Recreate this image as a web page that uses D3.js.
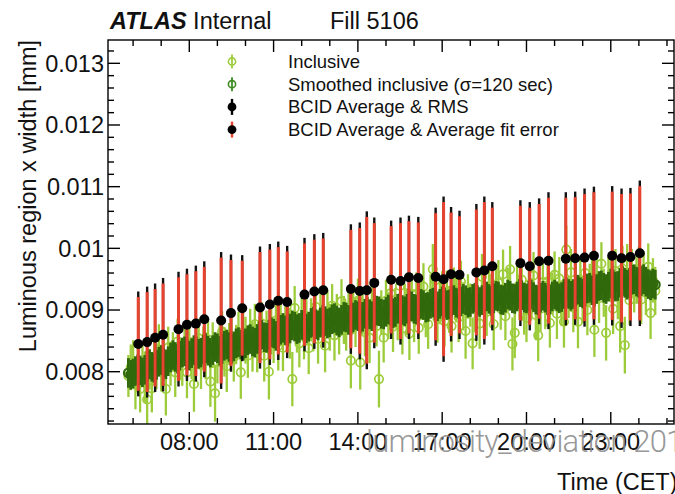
<!DOCTYPE html>
<html><head><meta charset="utf-8">
<script src="https://cdn.jsdelivr.net/npm/d3@7"></script>
<style>
html,body{margin:0;padding:0;background:#fff;}
svg{display:block;font-family:"Liberation Sans",Arial,Helvetica,sans-serif;}
</style></head><body>
<svg id="chart" width="675" height="494"></svg>
<script>
// Luminous region x width vs time, fill 5106.
// Widths are stored in micrometres; the axis is labelled in mm.

// Inclusive / smoothed samples: one every 5 minutes starting at 05:50
const sampleStart = "05:50";
const sampleStepMin = 5;

const inclusiveWidth = [
  7.93, 8.07,
  8.15, 7.79, 8.09, 7.72, 8.09, 7.91, 7.55, 8.04, 7.73, 8.21, 8.09, 8.36,
  8.01, 8.23, 7.72, 8.39, 8.13, 8.32, 7.99, 8.49, 8.21, 8.16, 8.45, 7.99,
  8.46, 8.22, 7.80, 8.43, 8.54, 8.11, 8.38, 8.26, 8.52, 7.84, 8.43, 7.65,
  8.16, 8.49, 8.65, 8.32, 8.09, 8.45, 8.57, 8.23, 8.44, 8.60, 7.99, 8.64,
  8.51, 8.26, 8.68, 8.41, 8.77, 8.38, 8.53, 8.78, 8.26, 8.65, 8.00, 8.66,
  8.50, 8.83, 8.42, 8.76, 8.39, 8.82, 8.87, 8.62, 7.88, 9.03, 8.64, 8.46,
  8.86, 8.59, 8.90, 8.38, 8.84, 8.71, 9.05, 8.53, 8.92, 8.82, 8.42, 8.96,
  8.72, 9.07, 8.59, 8.93, 8.65, 9.14, 8.84, 8.68, 8.99, 8.18, 8.96, 8.80,
  9.15, 8.15, 8.94, 8.64, 9.09, 8.55, 9.10, 8.86, 8.74, 7.88, 8.96, 8.55,
  9.15, 8.91, 9.27, 8.73, 9.03, 8.88, 9.39, 8.70, 9.08, 8.97, 8.62, 9.26,
  8.87, 9.26, 8.71, 9.18, 9.38, 8.92, 8.77, 9.25, 9.66, 9.48, 8.86, 9.12,
  9.26, 8.82, 9.30, 9.01, 8.74, 9.34, 9.17, 8.88, 9.46, 9.06, 8.66, 9.22,
  9.08, 8.46, 9.02, 9.28, 8.78, 9.54, 9.11, 8.97, 9.38, 9.20, 8.77, 9.38,
  9.44, 9.02, 9.58, 8.90, 9.33, 9.66, 8.45, 8.63, 9.37, 9.21, 9.49, 9.00,
  8.87, 9.41, 9.17, 9.56, 8.92, 8.59, 9.02, 9.45, 9.08, 9.46, 8.79, 9.27,
  9.57, 8.94, 9.51, 9.11, 8.81, 9.98, 9.21, 9.61, 9.04, 9.39, 8.81, 9.47,
  9.15, 9.60, 9.00, 9.41, 9.54, 8.68, 9.49, 9.19, 9.75, 9.28, 8.63, 9.50,
  9.51, 9.02, 9.63, 9.24, 8.74, 9.67, 8.43, 9.73, 9.16, 9.61, 9.32, 9.51,
  9.66, 9.17, 9.60, 9.31, 9.70, 8.95, 9.48, 9.31
];

const inclusiveErr = [
  0.34, 0.37,
  0.36, 0.40, 0.32, 0.38, 0.34, 0.42, 0.45, 0.33, 0.39, 0.35, 0.37, 0.41,
  0.33, 0.38, 0.43, 0.34, 0.36, 0.32, 0.40, 0.37, 0.35, 0.39, 0.33, 0.42,
  0.37, 0.34, 0.45, 0.36, 0.32, 0.39, 0.35, 0.38, 0.34, 0.41, 0.37, 0.46,
  0.35, 0.38, 0.33, 0.40, 0.42, 0.34, 0.36, 0.39, 0.32, 0.37, 0.43, 0.35,
  0.38, 0.36, 0.34, 0.41, 0.33, 0.39, 0.37, 0.35, 0.42, 0.34, 0.45, 0.38,
  0.36, 0.33, 0.40, 0.35, 0.38, 0.34, 0.37, 0.41, 0.44, 0.36, 0.33, 0.39,
  0.34, 0.39, 0.36, 0.42, 0.35, 0.38, 0.33, 0.40, 0.37, 0.34, 0.43, 0.36,
  0.38, 0.35, 0.41, 0.33, 0.37, 0.36, 0.39, 0.34, 0.38, 0.45, 0.35, 0.40,
  0.36, 0.44, 0.34, 0.39, 0.37, 0.41, 0.35, 0.38, 0.33, 0.46, 0.36, 0.40,
  0.34, 0.38, 0.36, 0.41, 0.33, 0.37, 0.39, 0.42, 0.35, 0.38, 0.43, 0.34,
  0.39, 0.35, 0.42, 0.34, 0.38, 0.36, 0.40, 0.33, 0.41, 0.37, 0.39, 0.35,
  0.37, 0.41, 0.34, 0.38, 0.43, 0.35, 0.37, 0.40, 0.34, 0.39, 0.45, 0.36,
  0.35, 0.42, 0.38, 0.34, 0.41, 0.37, 0.36, 0.39, 0.33, 0.38, 0.42, 0.35,
  0.37, 0.34, 0.40, 0.39, 0.36, 0.38, 0.43, 0.41, 0.35, 0.37, 0.34, 0.40,
  0.39, 0.36, 0.34, 0.38, 0.41, 0.42, 0.37, 0.35, 0.39, 0.36, 0.40, 0.34,
  0.38, 0.41, 0.35, 0.37, 0.42, 0.39, 0.34, 0.38, 0.40, 0.36, 0.43, 0.37,
  0.36, 0.39, 0.41, 0.34, 0.38, 0.44, 0.37, 0.40, 0.35, 0.39, 0.45, 0.36,
  0.38, 0.41, 0.36, 0.39, 0.43, 0.37, 0.46, 0.34, 0.40, 0.38, 0.36, 0.41,
  0.37, 0.40, 0.35, 0.39, 0.38, 0.42, 0.36, 0.39
];

const smoothedWidth = [
  7.98, 7.95,
  7.97, 8.01, 8.04, 8.02, 7.99, 8.03, 8.09, 8.12, 8.08, 8.06, 8.11, 8.16,
  8.19, 8.15, 8.12, 8.17, 8.23, 8.27, 8.24, 8.21, 8.26, 8.31, 8.33, 8.29,
  8.26, 8.30, 8.35, 8.33, 8.29, 8.31, 8.36, 8.38, 8.34, 8.31, 8.35, 8.40,
  8.38, 8.34, 8.37, 8.42, 8.44, 8.40, 8.37, 8.41, 8.46, 8.48, 8.44, 8.42,
  8.46, 8.51, 8.53, 8.49, 8.47, 8.53, 8.58, 8.60, 8.56, 8.55, 8.60, 8.64,
  8.62, 8.58, 8.62, 8.68, 8.71, 8.67, 8.65, 8.70, 8.75, 8.73, 8.69, 8.71,
  8.76, 8.74, 8.70, 8.73, 8.79, 8.81, 8.77, 8.75, 8.80, 8.84, 8.82, 8.78,
  8.80, 8.85, 8.87, 8.83, 8.80, 8.84, 8.89, 8.88, 8.84, 8.83, 8.88, 8.92,
  8.90, 8.86, 8.89, 8.94, 8.97, 8.93, 8.90, 8.94, 8.99, 8.98, 8.94, 8.93,
  8.97, 9.01, 8.99, 8.95, 8.97, 9.02, 9.04, 9.00, 8.98, 9.02, 9.07, 9.06,
  9.02, 9.01, 9.06, 9.10, 9.08, 9.04, 9.05, 9.10, 9.12, 9.08, 9.06, 9.10,
  9.14, 9.12, 9.08, 9.09, 9.14, 9.16, 9.12, 9.10, 9.14, 9.18, 9.16, 9.12,
  9.13, 9.18, 9.20, 9.16, 9.13, 9.16, 9.21, 9.22, 9.18, 9.15, 9.19, 9.23,
  9.22, 9.17, 9.16, 9.20, 9.25, 9.23, 9.19, 9.18, 9.22, 9.26, 9.24, 9.20,
  9.19, 9.23, 9.25, 9.21, 9.17, 9.16, 9.20, 9.23, 9.20, 9.16, 9.17, 9.22,
  9.25, 9.22, 9.19, 9.21, 9.26, 9.29, 9.26, 9.23, 9.26, 9.31, 9.33, 9.29,
  9.27, 9.30, 9.35, 9.36, 9.32, 9.30, 9.34, 9.39, 9.40, 9.36, 9.34, 9.38,
  9.43, 9.42, 9.38, 9.39, 9.44, 9.47, 9.44, 9.41, 9.44, 9.49, 9.50, 9.46,
  9.44, 9.47, 9.50, 9.46, 9.42, 9.40, 9.43, 9.41
];
const smoothedErr = 0.24;

// Per-BCID averages
const bcidTime = ["06:11","06:30","06:47","07:04","07:37","07:55","08:14","08:32","09:08","09:29",
  "09:53","10:31","10:52","11:10","11:29","12:06","12:27","12:46","13:45","14:04",
  "14:19","14:35","15:11","15:31","15:49","16:09","16:46","17:03","17:19","17:37",
  "18:13","18:30","18:47","19:47","20:07","20:27","20:47","21:24","21:44","22:04",
  "22:24","23:03","23:23","23:42","00:02"];
const bcidMean = [8.45,8.48,8.55,8.60,8.69,8.76,8.78,8.85,8.83,8.95,
  9.03,9.04,9.09,9.15,9.13,9.25,9.30,9.32,9.34,9.31,
  9.32,9.44,9.49,9.47,9.53,9.52,9.54,9.50,9.58,9.57,
  9.61,9.64,9.71,9.76,9.71,9.79,9.80,9.83,9.84,9.85,
  9.88,9.88,9.84,9.86,9.92];
const bcidRms = [0.85,0.90,0.88,0.92,0.93,0.91,0.94,0.94,1.11,0.95,
  0.86,0.99,0.98,0.96,0.91,0.92,0.93,0.93,1.05,1.11,
  1.28,1.06,0.96,1.03,1.00,0.99,1.12,1.34,1.09,1.04,
  1.11,1.20,1.04,1.02,1.04,1.02,1.11,1.08,1.08,1.12,
  1.12,1.13,1.13,1.12,1.18];
const bcidFitErr = [0.76,0.81,0.79,0.83,0.84,0.82,0.85,0.85,1.02,0.86,
  0.77,0.90,0.89,0.87,0.82,0.83,0.84,0.84,0.96,1.02,
  1.19,0.97,0.87,0.94,0.91,0.90,1.03,1.25,1.00,0.95,
  1.02,1.11,0.95,0.93,0.95,0.93,1.02,0.99,0.99,1.03,
  1.03,1.04,1.04,1.03,1.09];

// Axes
const xDomainHours = [5.107, 25.25];
const xMajorHours = [8, 11, 14, 17, 20, 23];
const xMajorLabels = ["08:00", "11:00", "14:00", "17:00", "20:00", "23:00"];
const xMinorHours = [6, 7, 9, 10, 12, 13, 15, 16, 18, 19, 21, 22, 24, 25];
const yDomainMm = [0.007152, 0.013378];
const yMajorMm = [0.008, 0.009, 0.010, 0.011, 0.012, 0.013];
const yMajorLabels = ["0.008", "0.009", "0.01", "0.011", "0.012", "0.013"];

const legendLabels = ["Inclusive", "Smoothed inclusive (\u03C3=120 sec)",
  "BCID Average & RMS", "BCID Average & Average fit error"];

// ---- layout ----
const frame = {left: 108, right: 674, top: 40, bottom: 424};
const colInclusive = "#9ccc3a";
const colSmoothed = "#30690b";
const colRed = "#e8432e";

const svg = d3.select("#chart");
svg.append("rect").attr("width", 675).attr("height", 494).attr("fill", "#fff");

const toHours = s => {
  const [h, m] = s.split(":").map(Number);
  return (h < 5 ? h + 24 : h) + m / 60;
};
const um = v => v / 1000;

const x = d3.scaleLinear().domain(xDomainHours).range([frame.left, frame.right]);
const y = d3.scaleLinear().domain(yDomainMm).range([frame.bottom, frame.top]);

const t0 = toHours(sampleStart);
const sampleHours = inclusiveWidth.map((_, i) => t0 + i * sampleStepMin / 60);

svg.append("clipPath").attr("id", "plotClip").append("rect")
  .attr("x", frame.left).attr("y", frame.top)
  .attr("width", frame.right - frame.left).attr("height", frame.bottom - frame.top);
const plot = svg.append("g").attr("clip-path", "url(#plotClip)");

// inclusive points
const inc = plot.append("g");
inc.selectAll("line").data(inclusiveWidth).join("line")
  .attr("x1", (d, i) => x(sampleHours[i])).attr("x2", (d, i) => x(sampleHours[i]))
  .attr("y1", (d, i) => y(um(d + inclusiveErr[i])))
  .attr("y2", (d, i) => y(um(d - inclusiveErr[i])))
  .attr("stroke", colInclusive).attr("stroke-width", 2.3);
inc.selectAll("circle").data(inclusiveWidth).join("circle")
  .attr("cx", (d, i) => x(sampleHours[i])).attr("cy", d => y(um(d)))
  .attr("r", 4.2).attr("fill", "none").attr("stroke", colInclusive).attr("stroke-width", 1.7);

// smoothed points
const sm = plot.append("g");
sm.selectAll("line").data(smoothedWidth).join("line")
  .attr("x1", (d, i) => x(sampleHours[i])).attr("x2", (d, i) => x(sampleHours[i]))
  .attr("y1", d => y(um(d + smoothedErr)))
  .attr("y2", d => y(um(d - smoothedErr)))
  .attr("stroke", colSmoothed).attr("stroke-width", 2.8);
sm.selectAll("circle").data(smoothedWidth).join("circle")
  .attr("cx", (d, i) => x(sampleHours[i])).attr("cy", d => y(um(d)))
  .attr("r", 4.4).attr("fill", "none").attr("stroke", colSmoothed).attr("stroke-width", 2.2);

// BCID averages: RMS (black) under fit error (red), then markers
const bc = plot.append("g");
const bx = i => x(toHours(bcidTime[i]));
bc.selectAll("line.rms").data(bcidMean).join("line").attr("class", "rms")
  .attr("x1", (d, i) => bx(i)).attr("x2", (d, i) => bx(i))
  .attr("y1", (d, i) => y(um(d + bcidRms[i]))).attr("y2", (d, i) => y(um(d - bcidRms[i])))
  .attr("stroke", "#111").attr("stroke-width", 2.4);
bc.selectAll("line.fit").data(bcidMean).join("line").attr("class", "fit")
  .attr("x1", (d, i) => bx(i)).attr("x2", (d, i) => bx(i))
  .attr("y1", (d, i) => y(um(d + bcidFitErr[i]))).attr("y2", (d, i) => y(um(d - bcidFitErr[i])))
  .attr("stroke", colRed).attr("stroke-width", 3);
bc.selectAll("circle").data(bcidMean).join("circle")
  .attr("cx", (d, i) => bx(i)).attr("cy", d => y(um(d)))
  .attr("r", 5).attr("fill", "#000");

// ---- frame and ticks ----
const axes = svg.append("g").attr("stroke", "#000").attr("stroke-width", 1.4);
axes.append("rect").attr("x", frame.left).attr("y", frame.top)
  .attr("width", frame.right - frame.left).attr("height", frame.bottom - frame.top)
  .attr("fill", "none");

function xTicks(hours, len) {
  hours.forEach(h => {
    const px = x(h);
    if (px <= frame.left || px >= frame.right) return;
    axes.append("line").attr("x1", px).attr("x2", px)
      .attr("y1", frame.bottom).attr("y2", frame.bottom - len);
    axes.append("line").attr("x1", px).attr("x2", px)
      .attr("y1", frame.top).attr("y2", frame.top + len);
  });
}
xTicks(xMajorHours, 12);
xTicks(xMinorHours, 6);

const yMinor = d3.range(36, 67).map(k => k * 0.0002).filter(v => !yMajorMm.some(m => Math.abs(m - v) < 1e-9));
function yTicks(vals, len) {
  vals.forEach(v => {
    const py = y(v);
    if (py <= frame.top || py >= frame.bottom) return;
    axes.append("line").attr("x1", frame.left).attr("x2", frame.left + len).attr("y1", py).attr("y2", py);
    axes.append("line").attr("x1", frame.right).attr("x2", frame.right - len).attr("y1", py).attr("y2", py);
  });
}
yTicks(yMajorMm, 12);
yTicks(yMinor, 6);

// tick labels
const lab = svg.append("g").attr("fill", "#111").attr("font-size", 23.5);
xMajorHours.forEach((h, i) => {
  lab.append("text").attr("x", x(h)).attr("y", 450).attr("text-anchor", "middle").text(xMajorLabels[i]);
});
yMajorMm.forEach((v, i) => {
  lab.append("text").attr("x", 104).attr("y", y(v)).attr("dy", "0.36em")
    .attr("text-anchor", "end").text(yMajorLabels[i]);
});

// axis titles
svg.append("text").attr("transform", "translate(36,40) rotate(-90)")
  .attr("text-anchor", "end").attr("font-size", 23.5).attr("fill", "#111")
  .text("Luminous region x width [mm]");
svg.append("text").attr("x", 557).attr("y", 490).attr("font-size", 23.5).attr("fill", "#111")
  .text("Time (CET)");

// header
const hdr = svg.append("text").attr("x", 110).attr("y", 29).attr("font-size", 23.5).attr("fill", "#111");
hdr.append("tspan").attr("font-weight", "bold").attr("font-style", "italic").text("ATLAS");
hdr.append("tspan").text(" Internal");
svg.append("text").attr("x", 330).attr("y", 29).attr("font-size", 23.5).attr("fill", "#111").text("Fill 5106");

// legend
const leg = svg.append("g");
const legX = 232, legTextX = 288, legY0 = 61.5, legDy = 22.7;
legendLabels.forEach((t, i) => {
  const cy = legY0 + i * legDy;
  const g = leg.append("g");
  if (i < 2) {
    const c = i === 0 ? colInclusive : "#3f8a22";
    g.append("line").attr("x1", legX).attr("x2", legX).attr("y1", cy - 7).attr("y2", cy + 7)
      .attr("stroke", c).attr("stroke-width", 1.8);
    g.append("circle").attr("cx", legX).attr("cy", cy).attr("r", 3.6)
      .attr("fill", "none").attr("stroke", c).attr("stroke-width", 1.6);
  } else {
    g.append("line").attr("x1", legX).attr("x2", legX).attr("y1", cy - 8).attr("y2", cy + 8)
      .attr("stroke", i === 2 ? "#000" : colRed).attr("stroke-width", 2.4);
    g.append("circle").attr("cx", legX).attr("cy", cy).attr("r", 4.4).attr("fill", "#000");
  }
  leg.append("text").attr("x", legTextX).attr("y", cy).attr("dy", "0.35em")
    .attr("font-size", 18.5).attr("fill", "#111").text(t);
});

// caption overlay along the bottom
svg.append("text").attr("x", 366).attr("y", 452)
  .attr("font-family", "Roboto, 'Liberation Sans', sans-serif").attr("font-weight", 300)
  .attr("font-size", 31).attr("letter-spacing", -0.8)
  .attr("fill", "#8a8a8a").attr("fill-opacity", 0.9)
  .text("luminosity_deviation 2017");
</script>
</body></html>
